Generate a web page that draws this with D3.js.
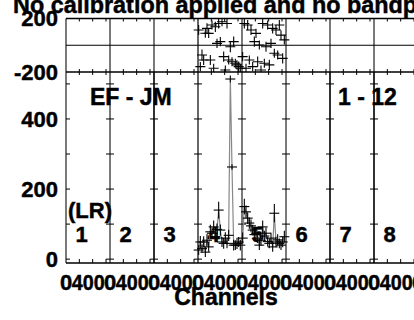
<!DOCTYPE html>
<html>
<head>
<meta charset="utf-8">
<script src="https://cdn.jsdelivr.net/npm/d3@7"></script>
<style>
  body { margin: 0; background: #fff; }
  svg { display: block; }
  text { font-family: "Liberation Sans", Arial, Helvetica, sans-serif; font-weight: bold; fill: #000;
         stroke: #000; stroke-width: 0.45; }
</style>
</head>
<body>
<script>
var width = 414, height = 320;

// ---- data ----
var panelLabels = ["1", "2", "3", "4", "5", "6", "7", "8", "9"];
var chans = [10, 35, 60, 85, 110, 135, 160, 185, 210, 235, 260, 285, 310,
             335, 360, 385, 410, 435, 460, 485, 510, 535, 560, 585, 610, 635];

// panel 4 (LR, 1-12)
var amp4    = [26, 49, 30, 49, 20, 54, 35, 78, 74, 92, 64, 85, 140,
               83, 49, 45, 60, 45, 68, 514, 263, 40, 40, 45, 49, 40];
var ampErr4 = [14, 17, 12, 16, 14, 18, 14, 20, 16, 18, 14, 17, 24,
               16, 14, 15, 17, 14, 16, 10, 8, 15, 14, 16, 14, 15];
var pha4    = [114, -160, -73, -110, 90, 126, 89, -110, 151, -172, 138, 14, 163,
               27, 176, -85, -185, 163, -110, -11, -123, 27, -135, -147, -160, -172];
var phaErr4 = [38, 34, 42, 38, 34, 38, 34, 38, 34, 34, 38, 34, 38,
               34, 34, 38, 34, 38, 34, 42, 34, 38, 34, 34, 38, 34];

// panel 5
var amp5    = [60, 150, 135, 117, 103, 95, 83, 70, 74, 60, 40, 54, 92,
               66, 74, 50, 45, 60, 35, 131, 49, 55, 45, 40, 49, 64];
var ampErr5 = [16, 22, 18, 17, 16, 18, 15, 16, 17, 14, 14, 16, 18,
               15, 16, 14, 14, 15, 14, 26, 15, 16, 14, 14, 15, 17];
var pha5    = [-85, 163, -172, 151, -110, 114, -160, 27, 89, -123, 2, -185, 163,
               -135, -11, 151, -147, 14, 126, -60, 114, -73, 151, 76, -98, 40];
var phaErr5 = [34, 38, 34, 38, 34, 38, 34, 38, 34, 38, 34, 34, 38,
               34, 38, 34, 38, 34, 38, 34, 38, 34, 38, 34, 38, 34];

var chanTicks = [200, 400, 600];
var chanLabels = [0, 400];
var ampTicks = [0, 100, 200, 300, 400, 500];
var ampLabels = [0, 200, 400];
var phaseLabels = [-200, 200];

// ---- layout ----
var plotLeft = 66, panelW = 44;
var phaTop = 18.5, phaBottom = 72, ampBottom = 263;

var panelX = d3.scaleLinear().domain([0, 1]).range([plotLeft, plotLeft + panelW]);
var chanX = d3.scaleLinear().domain([0, 660]).range([0, panelW]);
var yPha = d3.scaleLinear().domain([-200, 200]).range([phaBottom, phaTop]);
var yAmp = d3.scaleLinear().domain([-11, 534]).range([ampBottom, phaBottom]);

var svg = d3.select("body").append("svg")
    .attr("width", width)
    .attr("height", height);

var panels = d3.range(panelLabels.length);

svg.append("defs").append("clipPath").attr("id", "clipPha")
  .append("rect").attr("x", plotLeft).attr("y", phaTop)
  .attr("width", width).attr("height", phaBottom - phaTop);
svg.select("defs").append("clipPath").attr("id", "clipAmp")
  .append("rect").attr("x", plotLeft).attr("y", phaBottom)
  .attr("width", width).attr("height", ampBottom - phaBottom);

// title (cut off at the top like the original)
svg.append("text")
    .attr("x", 13).attr("y", 13)
    .attr("font-size", 23.4)
    .text("No calibration applied and no bandpass applied");

// panel dividers
var dark = [3];
svg.append("g").selectAll("line")
  .data(panels)
  .join("line")
    .attr("x1", function(d){ return panelX(d); })
    .attr("x2", function(d){ return panelX(d); })
    .attr("y1", phaTop).attr("y2", ampBottom)
    .attr("stroke", function(d){ return dark.indexOf(d) >= 0 ? "#000" : "#7a7a7a"; })
    .attr("stroke-width", function(d){ return dark.indexOf(d) >= 0 ? 1.2 : 2; });

// darker amplitude dividers
svg.append("g").selectAll("line")
  .data([2, 6, 7])
  .join("line")
    .attr("x1", function(d){ return panelX(d); })
    .attr("x2", function(d){ return panelX(d); })
    .attr("y1", phaBottom).attr("y2", ampBottom)
    .attr("stroke", "#000").attr("stroke-width", 1.2);

// frame lines
var frame = svg.append("g").attr("stroke", "#000").attr("stroke-width", 1.5);
[phaTop, phaBottom, ampBottom].forEach(function(y){
  frame.append("line").attr("x1", plotLeft).attr("x2", width).attr("y1", y).attr("y2", y);
});
frame.append("line").attr("x1", plotLeft).attr("x2", width)
  .attr("y1", yPha(0)).attr("y2", yPha(0)).attr("stroke-width", 1.2);

// channel ticks in every panel
var tickData = [];
panels.forEach(function(p){
  chanTicks.forEach(function(c){ tickData.push(panelX(p) + chanX(c)); });
});
var ticks = svg.append("g").attr("stroke", "#000").attr("stroke-width", 1);
ticks.selectAll(".tb").data(tickData).join("line").attr("class", "tb")
  .attr("x1", function(d){ return d; }).attr("x2", function(d){ return d; })
  .attr("y1", ampBottom).attr("y2", ampBottom - 4);
ticks.selectAll(".tt").data(tickData).join("line").attr("class", "tt")
  .attr("x1", function(d){ return d; }).attr("x2", function(d){ return d; })
  .attr("y1", phaTop).attr("y2", phaTop + 3);
ticks.selectAll(".tm").data(tickData).join("line").attr("class", "tm")
  .attr("x1", function(d){ return d; }).attr("x2", function(d){ return d; })
  .attr("y1", phaBottom - 3).attr("y2", phaBottom + 3);

// amplitude ticks across each divider
var yTickData = [];
panels.forEach(function(p){
  ampTicks.forEach(function(v){ yTickData.push({x: panelX(p), v: v}); });
});
ticks.selectAll(".ty").data(yTickData).join("line").attr("class", "ty")
  .attr("x1", function(d){ return Math.max(plotLeft, d.x - 4); })
  .attr("x2", function(d){ return d.x + 4; })
  .attr("y1", function(d){ return yAmp(d.v); })
  .attr("y2", function(d){ return yAmp(d.v); });

// y labels
svg.append("g").selectAll("text")
  .data(phaseLabels)
  .join("text")
    .attr("x", 58).attr("y", function(d){ return yPha(d); })
    .attr("dy", "0.36em").attr("text-anchor", "end").attr("font-size", 22)
    .text(function(d){ return d; });
svg.append("g").selectAll("text")
  .data(ampLabels)
  .join("text")
    .attr("x", 58).attr("y", function(d){ return yAmp(d); })
    .attr("dy", "0.36em").attr("text-anchor", "end").attr("font-size", 22)
    .text(function(d){ return d; });

// x tick labels: "0" on the panel edge, "400" packed right after it
var xLab = [];
panels.forEach(function(p){
  chanLabels.forEach(function(c){ xLab.push({x: panelX(p), t: c}); });
});
svg.append("g").selectAll("text")
  .data(xLab)
  .join("text")
    .attr("x", function(d){ return d.t == 0 ? d.x : d.x + 22.3; })
    .attr("y", 290)
    .attr("text-anchor", "middle").attr("font-size", 22)
    .attr("textLength", function(d){ return d.t == 0 ? null : 33; })
    .attr("lengthAdjust", "spacingAndGlyphs")
    .text(function(d){ return d.t; });

svg.append("text")
    .attr("x", 226).attr("y", 305)
    .attr("text-anchor", "middle").attr("font-size", 23)
    .text("Channels");

// panel labels
svg.append("g").selectAll("text")
  .data(panels)
  .join("text")
    .attr("x", function(d){ return panelX(d) + 15.5; })
    .attr("y", 242)
    .attr("text-anchor", "middle").attr("font-size", 22)
    .text(function(d){ return panelLabels[d]; });
svg.append("text").attr("x", 68).attr("y", 218).attr("font-size", 22).text("(LR)");
svg.append("text").attr("x", 90).attr("y", 105).attr("font-size", 23).text("EF - JM");
svg.append("text").attr("x", 338).attr("y", 105).attr("font-size", 23).text("1 - 12");

// ---- data marks ----
function series(p, amp, ampErr, pha, phaErr){
  return chans.map(function(c, i){
    return {x: panelX(p) + chanX(c), amp: amp[i], ae: ampErr[i], pha: pha[i], pe: phaErr[i]};
  });
}
var sets = [series(3, amp4, ampErr4, pha4, phaErr4), series(4, amp5, ampErr5, pha5, phaErr5)];

var ampG = svg.append("g").attr("clip-path", "url(#clipAmp)");
var phaG = svg.append("g").attr("clip-path", "url(#clipPha)");

var line = d3.line().x(function(d){ return d.x; }).y(function(d){ return yAmp(d.amp); });

sets.forEach(function(s){
  ampG.append("path")
    .datum(s)
    .attr("d", line)
    .attr("fill", "none")
    .attr("stroke", "#888")
    .attr("stroke-width", 1.2);

  var ac = ampG.append("g").attr("stroke", "#000").attr("stroke-width", 1.1);
  ac.selectAll(".h").data(s).join("line").attr("class", "h")
    .attr("x1", function(d){ return d.x - 5; }).attr("x2", function(d){ return d.x + 5; })
    .attr("y1", function(d){ return yAmp(d.amp); }).attr("y2", function(d){ return yAmp(d.amp); });
  ac.selectAll(".v").data(s).join("line").attr("class", "v")
    .attr("x1", function(d){ return d.x; }).attr("x2", function(d){ return d.x; })
    .attr("y1", function(d){ return yAmp(d.amp - d.ae); })
    .attr("y2", function(d){ return yAmp(d.amp + d.ae); });

  var pc = phaG.append("g").attr("stroke", "#000").attr("stroke-width", 1.1);
  pc.selectAll(".h").data(s).join("line").attr("class", "h")
    .attr("x1", function(d){ return d.x - 5; }).attr("x2", function(d){ return d.x + 5; })
    .attr("y1", function(d){ return yPha(d.pha); }).attr("y2", function(d){ return yPha(d.pha); });
  pc.selectAll(".v").data(s).join("line").attr("class", "v")
    .attr("x1", function(d){ return d.x; }).attr("x2", function(d){ return d.x; })
    .attr("y1", function(d){ return yPha(d.pha - d.pe); })
    .attr("y2", function(d){ return yPha(d.pha + d.pe); });
});
</script>
</body>
</html>
